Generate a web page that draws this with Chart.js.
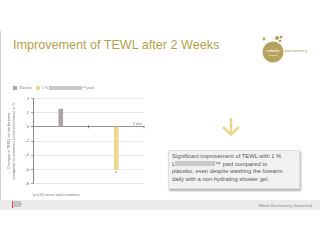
<!DOCTYPE html>
<html>
<head>
<meta charset="utf-8">
<script src="https://cdn.jsdelivr.net/npm/chart.js@4/dist/chart.umd.min.js"></script>
<style>
  html, body { margin: 0; padding: 0; background: #fff; }
  body { width: 320px; height: 240px; position: relative; overflow: hidden; font-family: "Liberation Sans", Arial, sans-serif; }
  .abs { position: absolute; }
  #leftline { left: 0; top: 31px; width: 1px; height: 179px; background: #cfcfcf; }
  #title { left: 13px; top: 38px; font-size: 12.6px; color: #b49f4f; white-space: nowrap; }
  #logo { left: 262px; top: 34px; }
  #legend { left: 13px; top: 85px; font-size: 4px; color: #777; white-space: nowrap; font-family: "Liberation Serif", serif; }
  #legend .sw { display: inline-block; width: 4px; height: 4px; vertical-align: -0.5px; margin-right: 2px; }
  .redact { display: inline-block; background: #c9c9c9; height: 4px; vertical-align: -0.5px; }
  #chartwrap { left: 6px; top: 94px; width: 140px; height: 94px; }
  #foot { left: 32px; top: 193px; font-size: 3.4px; color: #777; white-space: nowrap; }
  #footer { left: 0; top: 200px; width: 320px; height: 10px; background: #ebebeb; }
  #redlogo { left: 12px; top: 201px; width: 11px; height: 7px; }
  #footer-txt { right: 8px; top: 203.5px; font-size: 3.6px; color: #888; white-space: nowrap; }
  #arrow { left: 221px; top: 117px; }
  #box { left: 168px; top: 150px; width: 124px; height: 33px; padding: 2px 3px; background: #f1f1f1; border: 0.5px solid #dedede;
         box-shadow: 1px 1.5px 2px rgba(0,0,0,0.3); font-size: 5.8px; line-height: 7.6px; color: #555; }
  #box .redact { height: 5px; vertical-align: -0.5px; }
</style>
</head>
<body>
<div id="leftline" class="abs"></div>
<div id="title" class="abs">Improvement of TEWL after 2 Weeks</div>
<svg id="logo" class="abs" width="56" height="30" viewBox="0 0 56 30">
  <circle cx="2" cy="5" r="1.4" fill="#b5a25c"/>
  <circle cx="15" cy="4" r="2" fill="#b5a25c"/>
  <circle cx="19" cy="3" r="1.5" fill="#b5a25c"/>
  <circle cx="18" cy="7" r="1.3" fill="#b5a25c"/>
  <circle cx="11" cy="18" r="10.5" fill="#b5a25c"/>
  <text x="11" y="18" font-size="4.2" fill="#fff" text-anchor="middle" font-family="Liberation Sans">mibelle</text>
  <text x="11" y="22" font-size="2.4" fill="#fff" text-anchor="middle" font-family="Liberation Sans">GROUP</text>
  <text x="23" y="17.5" font-size="4" fill="#b5a25c" font-family="Liberation Sans">biochemistry</text>
</svg>

<div id="legend" class="abs">
  <span class="sw" style="background:#aaa6a7"></span>Placebo&nbsp;&nbsp;&nbsp;
  <span class="sw" style="background:#ecd98c"></span>1 % <span class="redact" style="width:33px"></span>™ pwd
</div>

<div id="chartwrap" class="abs"><canvas id="chart"></canvas></div>

<div id="foot" class="abs">*p&lt;0.05 versus initial conditions</div>

<svg id="arrow" class="abs" width="20" height="20" viewBox="0 0 20 20">
  <line x1="10" y1="1" x2="10" y2="17" stroke="#e9d68c" stroke-width="2.4"/>
  <polyline points="2,10 10,17.5 18,10" fill="none" stroke="#e9d68c" stroke-width="2.4"/>
</svg>

<div id="box" class="abs">
  Significant improvement of TEWL with 1 %<br>
  L<span class="redact" style="width:40px"></span>™ pwd compared to<br>
  placebo, even despite washing the forearm<br>
  daily with a non-hydrating shower gel.
</div>

<div id="footer" class="abs"></div>
<svg id="redlogo" class="abs" width="11" height="7" viewBox="0 0 11 7">
  <rect x="0" y="0" width="1.2" height="7" fill="#d9423a"/>
  <rect x="2" y="0.5" width="7" height="1" fill="#999"/>
  <rect x="2" y="2.5" width="8" height="1" fill="#999"/>
  <rect x="2" y="4.5" width="7" height="1" fill="#999"/>
</svg>
<div id="footer-txt" class="abs">Mibelle Biochemistry, Switzerland</div>

<script>
var categories = ['Placebo', '1 % pwd'];
var placeboValues = [2.5, null];
var activeValues = [null, -6.0];
var yTicks = [4, 2, 0, -2, -4, -6, -8];
var yTitle = ['Changes in TEWL on the forearm', 'compared to untreated (initial conditions) in %'];

// small marks: tick on zero line at category boundaries, labels
var extras = {
  id: 'extras',
  afterDatasetsDraw: function(chart) {
    var c = chart.ctx, x = chart.scales.x, y = chart.scales.y;
    var y0 = y.getPixelForValue(0);
    c.save();
    c.strokeStyle = '#666';
    c.lineWidth = 0.7;
    var mid = (x.getPixelForValue(0) + x.getPixelForValue(1)) / 2;
    [mid, chart.chartArea.right].forEach(function(px) {
      c.beginPath();
      c.moveTo(px, y0 - 1.5);
      c.lineTo(px, y0 + 1.5);
      c.stroke();
    });
    c.fillStyle = '#777';
    c.font = '3.5px "Liberation Sans"';
    c.textAlign = 'right';
    c.fillText('5 wks', chart.chartArea.right - 2, y0 - 2);
    c.textAlign = 'center';
    c.font = '5px "Liberation Sans"';
    c.fillText('*', x.getPixelForValue(1), y.getPixelForValue(activeValues[1]) + 6);
    c.restore();
  }
};

new Chart(document.getElementById('chart'), {
  type: 'bar',
  data: {
    labels: categories,
    datasets: [
      { label: 'Placebo', data: placeboValues, backgroundColor: '#aaa6a7', barThickness: 4 },
      { label: '1 % pwd', data: activeValues, backgroundColor: '#ecd98c', barThickness: 4 }
    ]
  },
  options: {
    responsive: true,
    maintainAspectRatio: false,
    animation: false,
    skipNull: true,
    layout: { padding: { top: 4, bottom: 4, right: 2 } },
    plugins: { legend: { display: false }, tooltip: { enabled: false } },
    scales: {
      x: { display: false },
      y: {
        min: -8, max: 4,
        afterBuildTicks: function(s) { s.ticks = yTicks.map(function(v) { return { value: v }; }); },
        afterFit: function(s) { s.width = 27; },
        border: { color: '#666', width: 0.8 },
        grid: {
          color: function(ctx) { return ctx.tick && ctx.tick.value === 0 ? '#777' : '#d8d8d8'; },
          lineWidth: function(ctx) { return ctx.tick && ctx.tick.value === 0 ? 0.8 : 0.6; },
          tickLength: 2,
          tickColor: '#666'
        },
        ticks: { font: { size: 4, family: 'Liberation Sans' }, color: '#777', padding: 2 },
        title: {
          display: true,
          text: yTitle,
          font: { size: 3.8, family: 'Liberation Sans' },
          color: '#777',
          padding: 1
        }
      }
    }
  },
  plugins: [extras]
});
</script>
</body>
</html>
